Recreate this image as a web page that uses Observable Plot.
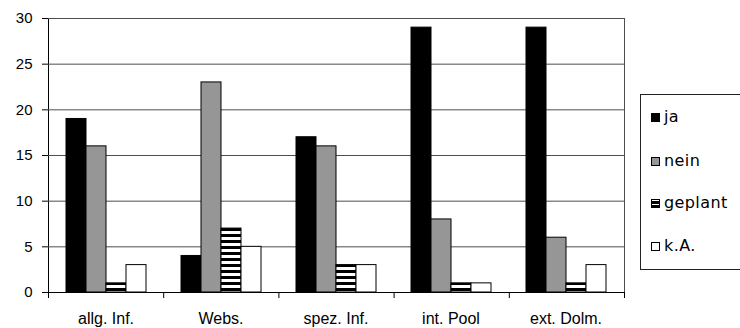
<!DOCTYPE html>
<html>
<head>
<meta charset="utf-8">
<script src="https://cdn.jsdelivr.net/npm/d3@7"></script>
<script src="https://cdn.jsdelivr.net/npm/@observablehq/plot@0.6"></script>
<style>
  html, body { margin: 0; padding: 0; background: #fff; overflow: hidden; }
  #wrap { position: relative; width: 740px; height: 328px; }
  #wrap svg { position: absolute; left: 0; top: 0; background: transparent; }
  #legend { position: absolute; left: 640px; top: 94px; width: 120px; height: 176px;
    border: 1px solid #222; box-sizing: border-box; font-family: "DejaVu Sans", sans-serif; font-size: 16px; letter-spacing: 0.4px; color: #000; }
  .item { position: absolute; left: 10px; display: flex; align-items: center; line-height: 18px; }
  .sw { width: 9px; height: 9px; border: 1px solid #000; box-sizing: border-box; margin-right: 4px; }
</style>
</head>
<body>
<div id="wrap"></div>
<script>
const categories = ["allg. Inf.", "Webs.", "spez. Inf.", "int. Pool", "ext. Dolm."];
const series = ["ja", "nein", "geplant", "k.A."];
const ja      = [19, 4, 17, 29, 29];
const nein    = [16, 23, 16, 8, 6];
const geplant = [1, 7, 3, 1, 1];
const ka      = [3, 5, 3, 1, 3];
const yTicks = [0, 5, 10, 15, 20, 25, 30];
const seriesFills = ["#000000", "#969696", "url(#stripes)", "#ffffff"];

const values = [ja, nein, geplant, ka];
const data = [];
categories.forEach((c, i) => series.forEach((s, j) => data.push({category: c, series: s, value: values[j][i]})));

const W = 740, H = 328;
const margins = {marginLeft: 48, marginRight: 116, marginTop: 18, marginBottom: 36};
const bounds = d3.range(categories.length + 1);

const back = Plot.plot({
  width: W, height: H, ...margins,
  style: {fontFamily: "Liberation Sans, Arial, sans-serif", fontSize: "15px", background: "transparent", color: "#000"},
  x: {domain: [0, categories.length], ticks: bounds, tickSize: 6, tickFormat: () => "", label: null, line: true},
  y: {domain: [0, 30], ticks: yTicks, tickSize: 6, tickPadding: 10, label: null, line: true},
  marks: [
    Plot.ruleY(yTicks.filter(d => d > 0), {stroke: "#4d4d4d", strokeWidth: 1}),
    Plot.ruleX([categories.length], {stroke: "#4d4d4d", strokeWidth: 1})
  ]
});

const front = Plot.plot({
  width: W, height: H, ...margins,
  style: {fontFamily: "Liberation Sans, Arial, sans-serif", fontSize: "16px", background: "transparent", color: "#000"},
  facet: {data: data, x: "category"},
  fx: {domain: categories, paddingInner: 0.278, paddingOuter: 0.139, axis: "bottom", tickSize: 0, tickPadding: 20, label: null},
  x: {domain: series, padding: 0, axis: null},
  y: {domain: [0, 30], axis: null},
  color: {domain: series, range: seriesFills},
  marks: [
    Plot.barY(data, {x: "series", y: "value", fill: "series", stroke: "#000", strokeWidth: 1})
  ]
});

const defs = d3.select(front).insert("defs", ":first-child");
const pat = defs.append("pattern").attr("id", "stripes").attr("patternUnits", "userSpaceOnUse")
  .attr("width", 6).attr("height", 6);
pat.append("rect").attr("width", 6).attr("height", 6).attr("fill", "#fff");
pat.append("rect").attr("width", 6).attr("height", 3).attr("fill", "#000");

const wrap = document.getElementById("wrap");
wrap.appendChild(back);
wrap.appendChild(front);

// legend
const legend = document.createElement("div");
legend.id = "legend";
const tops = [22, 66, 108, 151];
series.forEach((s, j) => {
  const it = document.createElement("div");
  it.className = "item";
  it.style.top = (tops[j] - 9) + "px";
  const sw = document.createElement("div");
  sw.className = "sw";
  if (s === "geplant") sw.style.background = "repeating-linear-gradient(#fff 0 1px, #000 1px 4px, #fff 4px 5px, #000 5px 8px)";
  else sw.style.background = seriesFills[j];
  const tx = document.createElement("span");
  tx.textContent = s;
  it.appendChild(sw); it.appendChild(tx);
  legend.appendChild(it);
});
wrap.appendChild(legend);
</script>
</body>
</html>
